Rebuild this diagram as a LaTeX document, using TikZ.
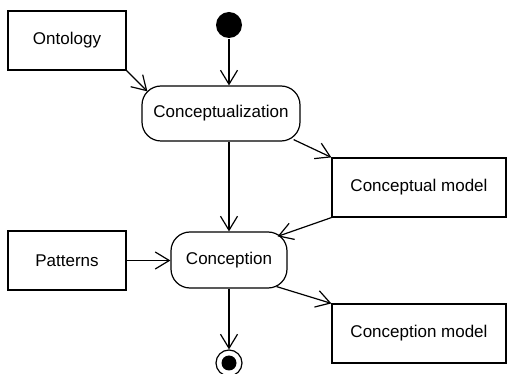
\documentclass[tikz,border=0pt]{standalone}
\usepackage{fontspec}
\setmainfont{Liberation Sans}
\usetikzlibrary{arrows.meta}
\begin{document}
\begin{tikzpicture}[x=1pt,y=-1pt,
  every node/.style={font=\fontsize{17}{20}\selectfont, line width=1.2pt, inner sep=0pt},
  artifact/.style={draw, rectangle, minimum width=118pt, minimum height=59pt},
  wideartifact/.style={draw, rectangle, minimum width=174pt, minimum height=59pt},
  activity/.style={draw, rectangle, rounded corners=19pt},
  flow/.style={line width=1.2pt, -{Straight Barb[length=14pt,width=17pt,line width=1.2pt]}}]
\useasboundingbox[fill=white] (0,0) rectangle (507,374);
\node[artifact] (ont) at (67,40.5) {Ontology};
\node[artifact] (pat) at (67,260.5) {Patterns};
\node[activity, minimum width=158pt, minimum height=55pt] (cz) at (221,113.5) {Conceptualization};
\node[activity, minimum width=116pt, minimum height=56pt] (con) at (229,260) {Conception};
\node[wideartifact] (cm) at (419,187.5) {Conceptual model};
\node[wideartifact] (cmod) at (419,333.5) {Conception model};
\node[circle, fill=black, minimum size=26pt] (start) at (229,25) {};
\node[circle, draw, line width=1.2pt, minimum size=26pt] (end) at (229,363) {};
\node[circle, fill=black, minimum size=15pt] (endin) at (229,363) {};
\draw[flow] (ont.south east) -- ([shift={(6,6)}]cz.north west);
\draw[flow] (start) -- (start |- cz.north);
\draw[flow] ([shift={(-7,-2)}]cz.south east) -- (cm.north west);
\draw[flow] (con.north |- cz.south) -- (con.north);
\draw[flow] (cm.south west) -- ([shift={(-10,5)}]con.north east);
\draw[flow] (pat.east) -- (pat.east -| con.west);
\draw[flow] ([shift={(-11,-2)}]con.south east) -- (cmod.north west);
\draw[flow] (con.south) -- (end.north);
\end{tikzpicture}
\end{document}
